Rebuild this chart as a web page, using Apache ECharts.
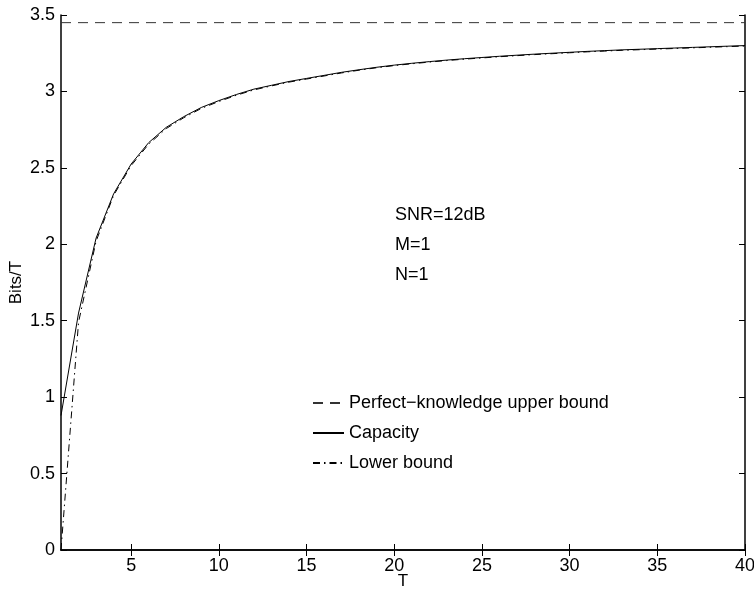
<!DOCTYPE html>
<html>
<head>
<meta charset="utf-8">
<script src="https://cdn.jsdelivr.net/npm/echarts@6/dist/echarts.min.js"></script>
<style>html,body{margin:0;padding:0;background:#fff}#c{width:754px;height:590px}</style>
</head>
<body>
<div id="c"></div>
<script>
const T = [1,2,3,4,5,6,7,8,9,10,11,12,13,14,15,16,17,18,19,20,21,22,23,24,25,26,27,28,29,30,31,32,33,34,35,36,37,38,39,40];
const capacity = [0.88,1.55,2.04,2.33,2.525,2.665,2.765,2.835,2.895,2.94,2.98,3.015,3.04,3.065,3.085,3.105,3.125,3.142,3.158,3.172,3.184,3.195,3.205,3.214,3.222,3.23,3.237,3.244,3.25,3.256,3.262,3.267,3.272,3.276,3.28,3.284,3.288,3.292,3.296,3.30];
const lowerBound = [0,1.49,2.02,2.32,2.515,2.655,2.757,2.828,2.889,2.934,2.975,3.01,3.036,3.061,3.081,3.101,3.121,3.139,3.155,3.169,3.181,3.192,3.202,3.211,3.219,3.227,3.234,3.241,3.247,3.253,3.259,3.264,3.269,3.273,3.277,3.281,3.285,3.289,3.293,3.297];
const upperT = [1, 40];
const upperBound = [3.45, 3.45];
const xTicks = [5,10,15,20,25,30,35,40];
const seriesNames = ['Perfect\u2212knowledge upper bound','Capacity','Lower bound'];
const annotations = ['SNR=12dB','M=1','N=1'];

const FONT = 'Liberation Sans';
const pair = (xs, ys) => xs.map((x, i) => [x, ys[i]]);

const chart = echarts.init(document.getElementById('c'), null, {renderer: 'canvas'});
const axisLine = {show: true, lineStyle: {color: '#000', width: 1.5}};
chart.setOption({
  animation: false,
  backgroundColor: '#fff',
  textStyle: {fontFamily: FONT},
  grid: {left: 61, right: 9, top: 15, bottom: 40, containLabel: false, outerBoundsMode: 'none'},
  xAxis: [{
    type: 'value', min: 1, max: 40, position: 'bottom',
    name: 'T', nameLocation: 'middle', nameGap: 23, nameMoveOverlap: false,
    nameTextStyle: {color: '#000', fontSize: 17, fontFamily: FONT},
    axisLine: axisLine,
    axisTick: {inside: true, length: 6, customValues: xTicks, lineStyle: {color: '#000'}},
    axisLabel: {customValues: xTicks, color: '#000', fontSize: 18, fontFamily: FONT, margin: 7},
    splitLine: {show: false}
  }, {
    type: 'value', min: 1, max: 40, position: 'top',
    axisLine: axisLine,
    axisTick: {inside: true, length: 6, customValues: xTicks, lineStyle: {color: '#000'}},
    axisLabel: {show: false},
    splitLine: {show: false}
  }],
  yAxis: [{
    type: 'value', min: 0, max: 3.5, interval: 0.5, position: 'left',
    name: 'Bits/T', nameLocation: 'middle', nameGap: 36, nameRotate: 90, nameMoveOverlap: false,
    nameTextStyle: {color: '#000', fontSize: 17, fontFamily: FONT},
    axisLine: axisLine,
    axisTick: {inside: true, length: 6, lineStyle: {color: '#000'}},
    axisLabel: {color: '#000', fontSize: 18, fontFamily: FONT, margin: 6},
    splitLine: {show: false}
  }, {
    type: 'value', min: 0, max: 3.5, interval: 0.5, position: 'right',
    axisLine: axisLine,
    axisTick: {inside: true, length: 6, lineStyle: {color: '#000'}},
    axisLabel: {show: false},
    splitLine: {show: false}
  }],
  legend: {
    orient: 'vertical', left: 307, top: 389,
    itemWidth: 31, itemHeight: 12, itemGap: 12,
    itemStyle: {opacity: 0},
    textStyle: {color: '#000', fontSize: 18, fontFamily: FONT, lineHeight: 18},
    data: seriesNames
  },
  graphic: annotations.map((t, i) => ({
    type: 'text', left: 395, top: 206 + i * 30,
    style: {text: t, fill: '#000', fontSize: 18, fontFamily: FONT}
  })),
  series: [{
    name: seriesNames[0], type: 'line', symbol: 'none',
    data: pair(upperT, upperBound),
    lineStyle: {color: '#333', width: 1, type: [10, 7]},
    itemStyle: {color: '#333'}
  }, {
    name: seriesNames[1], type: 'line', symbol: 'none',
    data: pair(T, capacity),
    lineStyle: {color: '#000', width: 1, type: 'solid'},
    itemStyle: {color: '#000'}
  }, {
    name: seriesNames[2], type: 'line', symbol: 'none',
    data: pair(T, lowerBound),
    lineStyle: {color: '#000', width: 1, type: [7, 4, 1.5, 4]},
    itemStyle: {color: '#000'}
  }]
});
</script>
</body>
</html>
